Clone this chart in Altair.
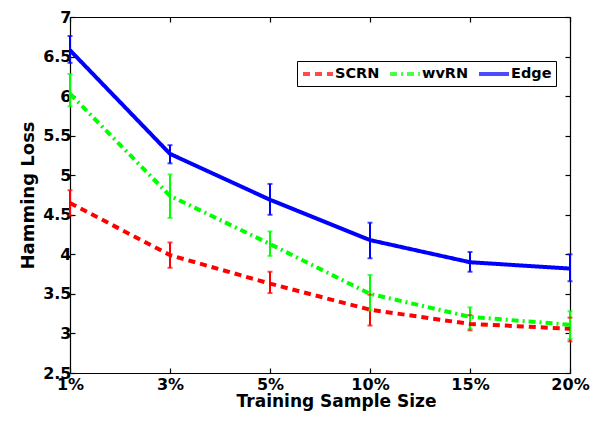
import altair as alt
import pandas as pd

x_labels = ["1%", "3%", "5%", "10%", "15%", "20%"]
series_names = ["SCRN", "wvRN", "Edge"]

scrn_mean = [4.65, 3.99, 3.63, 3.30, 3.12, 3.06]
scrn_lo = [4.49, 3.83, 3.51, 3.10, 3.04, 2.90]
scrn_hi = [4.81, 4.15, 3.78, 3.49, 3.23, 3.20]

wvrn_mean = [6.03, 4.74, 4.13, 3.50, 3.21, 3.11]
wvrn_lo = [5.87, 4.46, 3.98, 3.29, 3.06, 2.93]
wvrn_hi = [6.28, 5.01, 4.29, 3.74, 3.33, 3.28]

edge_mean = [6.58, 5.27, 4.69, 4.18, 3.90, 3.82]
edge_lo = [6.42, 5.15, 4.50, 3.95, 3.78, 3.66]
edge_hi = [6.76, 5.38, 4.89, 4.40, 4.03, 4.00]

y_ticks = [2.5, 3, 3.5, 4, 4.5, 5, 5.5, 6, 6.5, 7]

rows = []
for name, m, lo, hi in [("SCRN", scrn_mean, scrn_lo, scrn_hi),
                        ("wvRN", wvrn_mean, wvrn_lo, wvrn_hi),
                        ("Edge", edge_mean, edge_lo, edge_hi)]:
    for i, lab in enumerate(x_labels):
        rows.append({"series": name, "x": lab, "mean": m[i], "lo": lo[i], "hi": hi[i]})
df = pd.DataFrame(rows)

FONT = "DejaVu Sans"
colors = ["#FF0000", "#00FF00", "#0000FF"]
dashes = [[7, 5], [7, 4, 2, 4], [1, 0]]

xscale = alt.Scale(type="point", padding=0, domain=x_labels)
yscale = alt.Scale(domain=[2.5, 7], nice=False, zero=False)
cscale = alt.Scale(domain=series_names, range=colors)
dscale = alt.Scale(domain=series_names, range=dashes)

inward = {"expr": "-5"}

leg = alt.Legend(orient="none", legendX=227, legendY=44, direction="horizontal",
                 title=None, symbolType="M-1,0H3.286", symbolStrokeWidth=4,
                 symbolSize=196, labelFontSize=14.5, labelFont=FONT,
                 labelFontWeight="bold", labelColor="black",
                 strokeColor="black", fillColor="white", padding=4,
                 columnPadding=2, labelOffset=16, cornerRadius=0)

x_bottom = alt.X("x:O", scale=xscale, sort=x_labels,
                 axis=alt.Axis(orient="bottom", title="Training Sample Size", labelAngle=0,
                               tickSize=inward, labelPadding=8, titlePadding=1.5,
                               titleX=266, titleFontSize=17, grid=False))
y_left = alt.Y("mean:Q", scale=yscale,
               axis=alt.Axis(orient="left", title="Hamming Loss", values=y_ticks, format="~g",
                             tickSize=inward, labelPadding=4, titlePadding=5, grid=False))

lines = alt.Chart(df).mark_line(strokeWidth=4).encode(
    x=x_bottom,
    y=y_left,
    color=alt.Color("series:N", scale=cscale, sort=series_names, legend=leg),
    strokeDash=alt.StrokeDash("series:N", scale=dscale, sort=series_names, legend=leg),
    detail="series:N",
)

x_plain = alt.X("x:O", scale=xscale, sort=x_labels, axis=None)
c_plain = alt.Color("series:N", scale=cscale, sort=series_names)

err = alt.Chart(df).mark_rule(strokeWidth=2).encode(
    x=x_plain,
    y=alt.Y("lo:Q", scale=yscale, axis=None),
    y2="hi:Q",
    color=c_plain,
)
cap_lo = alt.Chart(df).mark_tick(thickness=2, size=5).encode(
    x=x_plain,
    y=alt.Y("lo:Q", scale=yscale, axis=None),
    color=c_plain,
)
cap_hi = alt.Chart(df).mark_tick(thickness=2, size=5).encode(
    x=x_plain,
    y=alt.Y("hi:Q", scale=yscale, axis=None),
    color=c_plain,
)

frame = alt.Chart(df).mark_point(opacity=0).encode(
    x=alt.X("x:O", scale=xscale, sort=x_labels,
            axis=alt.Axis(orient="top", title=None, labels=False, tickSize=inward, grid=False)),
    y=alt.Y("mean:Q", scale=yscale,
            axis=alt.Axis(orient="right", title=None, labels=False, values=y_ticks,
                          tickSize=inward, grid=False)),
)

chart = alt.layer(frame, err, cap_lo, cap_hi, lines).resolve_axis(
    x="independent", y="independent"
).properties(
    width=500, height=356,
    autosize="none",
    background="white",
    padding={"left": 62, "top": 9, "right": 20, "bottom": 43},
).configure_view(stroke=None).configure_axis(
    domainColor="black", domainWidth=1.2, tickColor="black", tickWidth=1.2,
    labelFont=FONT, labelFontSize=16, labelFontWeight="bold", labelColor="black",
    titleFont=FONT, titleFontSize=18, titleFontWeight="bold", titleColor="black",
    grid=False,
)

chart.save("out.html", embed_options={"renderer": "svg", "actions": False})
